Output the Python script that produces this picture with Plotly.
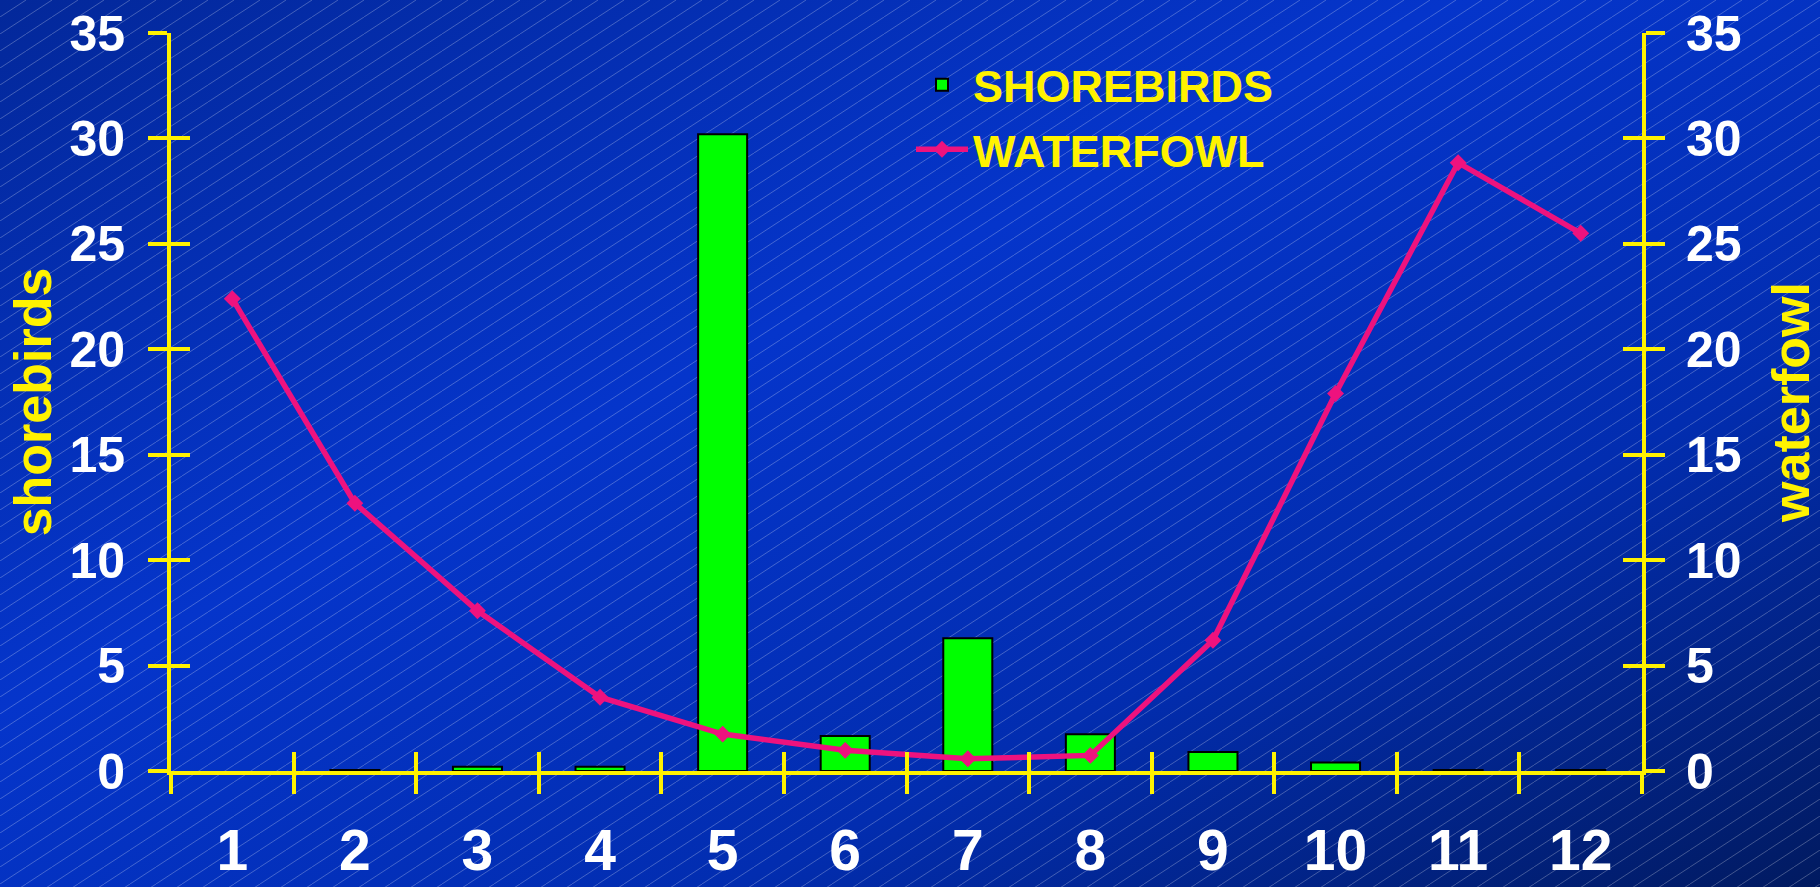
import base64
import plotly.graph_objects as go

# ---- data ----
months = ["1", "2", "3", "4", "5", "6", "7", "8", "9", "10", "11", "12"]
shorebirds = [None, 0.05, 0.2, 0.2, 30.2, 1.66, 6.3, 1.74, 0.9, 0.4, 0.05, 0.05]
waterfowl = [22.4, 12.7, 7.6, 3.5, 1.75, 0.98, 0.58, 0.74, 6.2, 17.9, 28.85, 25.5]
y_ticks = [0, 5, 10, 15, 20, 25, 30, 35]

W, H = 1820, 887
L, R, T, B = 171, 178, 33, 116
PW, PH = W - L - R, H - T - B

YELLOW = "#FFF200"
PINK = "#EE127E"
FONT = "Liberation Sans"

svg = f'''<svg xmlns="http://www.w3.org/2000/svg" width="{W}" height="{H}" viewBox="0 0 {W} {H}" preserveAspectRatio="none">
<defs>
<linearGradient id="g" x1="0" y1="0" x2="1" y2="1">
<stop offset="0" stop-color="#03289a"/>
<stop offset="0.4" stop-color="#0535cb"/>
<stop offset="0.7" stop-color="#022db0"/>
<stop offset="1" stop-color="#011a60"/>
</linearGradient>
<pattern id="p" patternUnits="userSpaceOnUse" width="26" height="17">
<line x1="-2.6" y1="18.7" x2="28.6" y2="-1.7" stroke="#ffffff" stroke-opacity="0.25" stroke-width="1"/>
</pattern>
</defs>
<rect width="{W}" height="{H}" fill="url(#g)"/>
<rect width="{W}" height="{H}" fill="url(#p)"/>
</svg>'''
src = "data:image/svg+xml;base64," + base64.b64encode(svg.encode()).decode()

fig = go.Figure()
fig.add_trace(go.Bar(
    x=months, y=shorebirds, name="SHOREBIRDS", width=0.4,
    marker=dict(color="#00FF00", line=dict(color="black", width=2)),
    legendgroup="a", xaxis="x", yaxis="y",
))
fig.add_trace(go.Scatter(
    x=months, y=waterfowl, name="WATERFOWL", mode="lines+markers",
    line=dict(color=PINK, width=5.5),
    marker=dict(symbol="diamond", size=13, color=PINK),
    legendgroup="b", xaxis="x", yaxis="y2",
))

tickfont_y = dict(family=FONT, size=50, color="white", weight="bold")
tickfont_x = dict(family=FONT, size=57, color="white", weight="bold")
titlefont = dict(family=FONT, size=52, color=YELLOW, weight="bold")

common_y = dict(range=[0, 35], tickvals=y_ticks, showgrid=False, zeroline=False,
                fixedrange=True, automargin=False)

fig.update_layout(
    width=W, height=H, autosize=False,
    margin=dict(l=L, r=R, t=T, b=B, pad=0, autoexpand=False),
    paper_bgcolor="#0330bb",
    plot_bgcolor="rgba(0,0,0,0)",
    images=[dict(source=src, xref="paper", yref="paper",
                 x=-L / PW, y=1 + T / PH, sizex=W / PW, sizey=H / PH,
                 xanchor="left", yanchor="top", sizing="stretch", layer="below")],
    showlegend=True,
    legend=dict(x=(911 - L) / PW, y=1 - (49 - T) / PH, xanchor="left", yanchor="top",
                bgcolor="rgba(0,0,0,0)", font=dict(family=FONT, size=45, color=YELLOW, weight="bold"),
                itemwidth=52, traceorder="grouped", tracegroupgap=3),
    xaxis=dict(type="category", range=[-0.5, 11.5], showline=True, linecolor=YELLOW, linewidth=4,
               ticks="outside", tickson="boundaries", ticklen=19, tickwidth=4, tickcolor=YELLOW,
               tickfont=tickfont_x, ticklabelstandoff=27, showgrid=False, zeroline=False,
               automargin=False, fixedrange=True),
    xaxis2=dict(type="category", range=[-0.5, 11.5], overlaying="x", side="bottom", anchor="y",
                ticks="inside", tickson="boundaries", ticklen=19, tickwidth=4, tickcolor=YELLOW,
                showticklabels=False, showline=False, showgrid=False, zeroline=False,
                categoryarray=months, categoryorder="array", automargin=False, fixedrange=True),
    yaxis=dict(**common_y, side="left", showline=True, linecolor=YELLOW, linewidth=4,
               ticks="outside", ticklen=19, tickwidth=4, tickcolor=YELLOW,
               tickfont=tickfont_y, ticklabelstandoff=13,
               title=dict(text="shorebirds", font=titlefont, standoff=2)),
    yaxis2=dict(**common_y, overlaying="y", side="right", anchor="x", showline=True,
                linecolor=YELLOW, linewidth=4,
                ticks="outside", ticklen=19, tickwidth=4, tickcolor=YELLOW,
                tickfont=tickfont_y, ticklabelstandoff=11,
                title=dict(text="waterfowl", font=titlefont, standoff=35)),
    yaxis3=dict(**common_y, overlaying="y", side="left", anchor="x",
                ticks="inside", ticklen=19, tickwidth=4, tickcolor=YELLOW,
                showticklabels=False, showline=False),
    yaxis4=dict(**common_y, overlaying="y", side="right", anchor="x",
                ticks="inside", ticklen=19, tickwidth=4, tickcolor=YELLOW,
                showticklabels=False, showline=False),
)

# helper traces so the overlay tick axes are rendered
fig.add_trace(go.Scatter(x=months, y=waterfowl, xaxis="x2", yaxis="y3", mode="lines",
                         line=dict(width=0), opacity=0, showlegend=False, hoverinfo="skip"))
fig.add_trace(go.Scatter(x=months, y=waterfowl, xaxis="x2", yaxis="y4", mode="lines",
                         line=dict(width=0), opacity=0, showlegend=False, hoverinfo="skip"))

fig.write_html("out.html", config={"displayModeBar": False},
               post_script="document.body.style.margin='0';document.body.style.overflow='hidden';")
